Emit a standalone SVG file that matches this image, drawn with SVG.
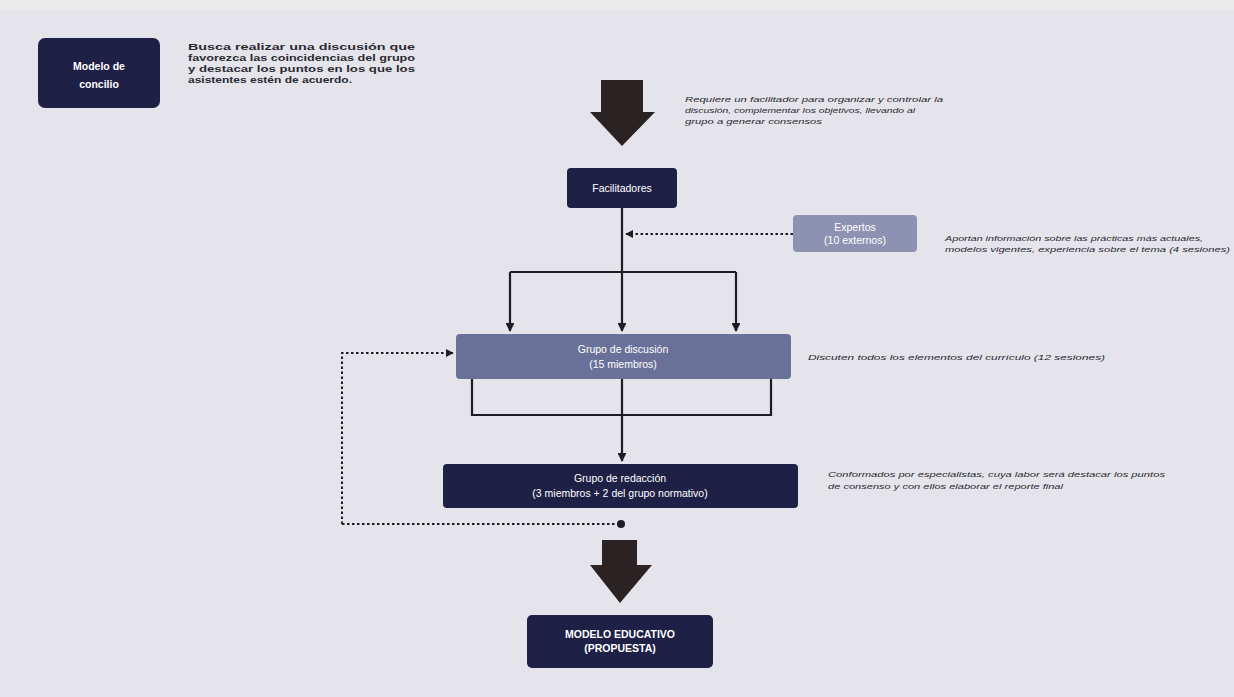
<svg xmlns="http://www.w3.org/2000/svg" width="1234" height="697" viewBox="0 0 1234 697">
<defs>
<style>
.bg{fill:#e5e4ea}
.dark{fill:#1f2046}
.mid{fill:#6a7198}
.light{fill:#8d92b2}
.lbl{font-family:"Liberation Sans",Arial,sans-serif;font-size:10.5px;fill:#ffffff;text-anchor:middle}
.lblb{font-family:"Liberation Sans",Arial,sans-serif;font-size:10.5px;font-weight:bold;fill:#ffffff;text-anchor:middle}
.desc{font-family:"Liberation Sans",Arial,sans-serif;font-size:8px;font-style:italic;fill:#2a2a33}
.descb{font-family:"Liberation Sans",Arial,sans-serif;font-size:9.5px;font-weight:bold;fill:#2a2a33}
.ln{stroke:#1c1c22;stroke-width:2.2;fill:none}
.dot{stroke:#1c1c22;stroke-width:2;fill:none;stroke-dasharray:2.5 2.5}
.big{fill:#2a2223}
</style>
<marker id="ah" viewBox="0 0 10 10" refX="9" refY="5" markerWidth="4" markerHeight="4" orient="auto" markerUnits="strokeWidth">
<path d="M0,0 L10,5 L0,10 z" fill="#1c1c22"/>
</marker>
</defs>
<rect class="bg" x="0" y="0" width="1234" height="697"/>
<rect x="0" y="0" width="1234" height="10" fill="#ebebec"/>

<g id="connectors">
<path class="big" d="M601,80 H643 V112 H655 L622,146 L590,112 H601 Z"/>
<path class="ln" d="M622,208 V270" />
<path class="ln" d="M510,272 H736"/>
<path class="ln" d="M510,272 V331" marker-end="url(#ah)"/>
<path class="ln" d="M622,270 V331" marker-end="url(#ah)"/>
<path class="ln" d="M736,272 V331" marker-end="url(#ah)"/>
<path class="dot" d="M793,234 H626" marker-end="url(#ah)"/>
<path class="ln" d="M472,378 V415 H771 V378"/>
<path class="ln" d="M622,378 V461" marker-end="url(#ah)"/>
<path class="dot" d="M342,524 V353 H453" marker-end="url(#ah)"/>
<path class="dot" d="M342,524 H619"/>
<circle cx="621" cy="524" r="4" fill="#1c1c22"/>
<path class="big" d="M602,540 H637 V565 H652 L620,603 L590,565 H602 Z"/>
</g>

<g id="modelo-concilio">
<rect class="dark" x="38" y="38" width="122" height="70" rx="7"/>
<text class="lblb" x="99" y="70">Modelo de</text>
<text class="lblb" x="99" y="88">concilio</text>
</g>
<g id="desc-concilio">
<text class="descb" x="188" y="50" textLength="227" lengthAdjust="spacingAndGlyphs">Busca realizar una discusión que</text>
<text class="descb" x="188" y="61" textLength="227" lengthAdjust="spacingAndGlyphs">favorezca las coincidencias del grupo</text>
<text class="descb" x="188" y="72" textLength="227" lengthAdjust="spacingAndGlyphs">y destacar los puntos en los que los</text>
<text class="descb" x="188" y="83" textLength="164" lengthAdjust="spacingAndGlyphs">asistentes estén de acuerdo.</text>
</g>

<g id="desc-facilitadores">
<text class="desc" x="685" y="102" textLength="258" lengthAdjust="spacingAndGlyphs">Requiere un facilitador para organizar y controlar la</text>
<text class="desc" x="685" y="113" textLength="230" lengthAdjust="spacingAndGlyphs">discusión, complementar los objetivos, llevando al</text>
<text class="desc" x="685" y="124" textLength="137" lengthAdjust="spacingAndGlyphs">grupo a generar consensos</text>
</g>

<g id="facilitadores">
<rect class="dark" x="567" y="168" width="110" height="40" rx="4"/>
<text class="lbl" x="622" y="192">Facilitadores</text>
</g>

<g id="expertos">
<rect class="light" x="793" y="215" width="124" height="37" rx="4"/>
<text class="lbl" x="855" y="231">Expertos</text>
<text class="lbl" x="855" y="244">(10 externos)</text>
</g>
<g id="desc-expertos">
<text class="desc" x="945" y="241" textLength="258" lengthAdjust="spacingAndGlyphs">Aportan información sobre las prácticas más actuales,</text>
<text class="desc" x="945" y="252" textLength="285" lengthAdjust="spacingAndGlyphs">modelos vigentes, experiencia sobre el tema (4 sesiones)</text>
</g>

<g id="grupo-discusion">
<rect class="mid" x="456" y="334" width="335" height="45" rx="4"/>
<text class="lbl" x="623" y="353">Grupo de discusión</text>
<text class="lbl" x="623" y="368" fill="#d8d8e4">(15 miembros)</text>
</g>
<g id="desc-discusion">
<text class="desc" x="808" y="360" textLength="297" lengthAdjust="spacingAndGlyphs">Discuten todos los elementos del currículo (12 sesiones)</text>
</g>

<g id="grupo-redaccion">
<rect class="dark" x="443" y="464" width="355" height="44" rx="4"/>
<text class="lbl" x="620" y="482">Grupo de redacción</text>
<text class="lbl" x="620" y="497">(3 miembros + 2 del grupo normativo)</text>
</g>
<g id="desc-redaccion">
<text class="desc" x="828" y="477" textLength="337" lengthAdjust="spacingAndGlyphs">Conformados por especialistas, cuya labor será destacar los puntos</text>
<text class="desc" x="828" y="489" textLength="235" lengthAdjust="spacingAndGlyphs">de consenso y con ellos elaborar el reporte final</text>
</g>

<g id="modelo-educativo">
<rect class="dark" x="527" y="615" width="186" height="53" rx="5"/>
<text class="lblb" x="620" y="638">MODELO EDUCATIVO</text>
<text class="lblb" x="620" y="652">(PROPUESTA)</text>
</g>
</svg>
